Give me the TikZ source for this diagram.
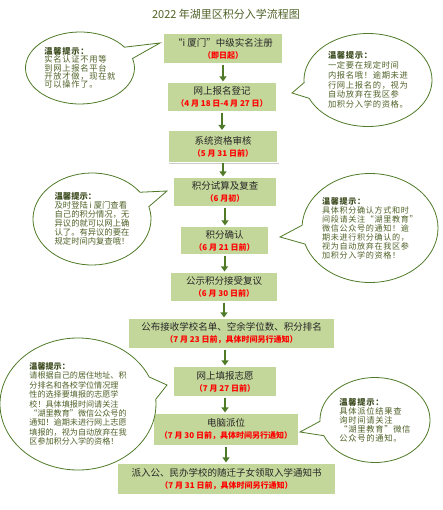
\documentclass[tikz,border=0pt]{standalone}
\usepackage{fontspec}
\setmainfont{Noto Sans CJK SC}
\newfontfamily\hintwide{Noto Sans CJK SC}[LetterSpace=8]
\usetikzlibrary{arrows.meta,shapes.callouts,shadows}
\definecolor{boxfill}{HTML}{C4D79B}
\definecolor{leaf}{HTML}{4F7A28}
\definecolor{hintgreen}{HTML}{4F6228}
\definecolor{hintdark}{HTML}{3A4A1C}
\definecolor{datered}{HTML}{FF0000}
\newcommand\datetxt[1]{{\fontsize{8}{12}\selectfont\bfseries\color{datered}#1}}
\newcommand\hinthead{{\bfseries\color{hintdark}温馨提示：}}
\begin{document}
\begin{tikzpicture}[x=1pt,y=-1pt,
  stage/.style={fill=boxfill,draw=white,line width=1.2pt,
    drop shadow={shadow xshift=1.3pt,shadow yshift=-1.3pt,fill=black!40},
    align=center,inner sep=0pt,font=\fontsize{9.5}{12}\selectfont,text=black!85},
  hint/.style={ellipse callout,draw=leaf,line width=0.8pt,fill=white,
    callout pointer arc=20,align=left,inner sep=0pt,
    font=\fontsize{8.3}{9}\selectfont,text=hintgreen},
  flow/.style={draw=leaf,line width=2pt,-{Triangle[width=7pt,length=5pt]}}]
\useasboundingbox[fill=white] (0,0) rectangle (442,510);
\node[font=\fontsize{11}{13}\selectfont,text=hintgreen] (title) at (226,14) {2022 年湖里区积分入学流程图};
\node[stage,minimum width=120pt,minimum height=31pt] (b1) at (223,48.5) {“i 厦门”中级实名注册\\\datetxt{（即日起）}};
\node[stage,minimum width=110pt,minimum height=30pt] (b2) at (222,97) {网上报名登记\\\datetxt{（4 月 18 日-4 月 27 日）}};
\node[stage,minimum width=110pt,minimum height=32pt] (b3) at (223,146.5) {系统资格审核\\\datetxt{（5 月 31 日前）}};
\node[stage,minimum width=104pt,minimum height=30pt] (b4) at (225,192) {积分试算及复查\\\datetxt{（6 月初）}};
\node[stage,minimum width=89pt,minimum height=29pt] (b5) at (224.5,240.5) {积分确认\\\datetxt{（6 月 21 日前）}};
\node[stage,minimum width=108pt,minimum height=30pt] (b6) at (224,287) {公示积分接受复议\\\datetxt{（6 月 30 日前）}};
\node[stage,minimum width=207pt,minimum height=31pt] (b7) at (231.5,333.5) {公布接收学校名单、空余学位数、积分排名\\\datetxt{（7 月 23 日前，具体时间另行通知）}};
\node[stage,minimum width=104pt,minimum height=31pt] (b8) at (225,381.5) {网上填报志愿\\\datetxt{（7 月 27 日前）}};
\node[stage,minimum width=146pt,minimum height=33pt] (b9) at (226,429.5) {电脑派位\\\datetxt{（7 月 30 日前，具体时间另行通知）}};
\node[stage,minimum width=219pt,minimum height=32pt] (b10) at (226.5,479) {派入公、民办学校的随迁子女领取入学通知书\\\datetxt{（7 月 31 日前，具体时间另行通知）}};
\draw[flow] (b1.south) -- (b1.south |- b2.north);
\draw[flow] (b2.south) -- (b2.south |- b3.north);
\draw[flow] (b3.south) -- (b3.south |- b4.north);
\draw[flow] (b4.south) -- (b4.south |- b5.north);
\draw[flow] (b5.south) -- (b5.south |- b6.north);
\draw[flow] (b6.south) -- (b6.south |- b7.north);
\draw[flow] (b8.north |- b7.south) -- (b8.north);
\draw[flow] (b8.south) -- (b8.south |- b9.north);
\draw[flow] (b9.south) -- (b9.south |- b10.north);
\coordinate (t1) at (160,43);
\coordinate (t2) at (292,93);
\coordinate (t3) at (167,191);
\coordinate (t4) at (280,237);
\coordinate (t5) at (167,385);
\coordinate (t6) at (300,432);
\node[hint,minimum width=109pt,minimum height=72pt,callout absolute pointer={(t1)},
  font=\hintwide\fontsize{8.3}{8.3}\selectfont] (h1) at (80,68)
  {\hinthead\\实名认证不用等\\到网上报名平台\\开放才做，现在就\\可以操作了。};
\node[hint,minimum width=128pt,minimum height=93pt,callout absolute pointer={(t2)},
  font=\hintwide\fontsize{8.3}{9.7}\selectfont] (h2) at (368,80)
  {\hinthead\\一定要在规定时间\\内报名哦！逾期未进\\行网上报名的，视为\\自动放弃在我区参\\加积分入学的资格。};
\node[hint,minimum width=118pt,minimum height=92pt,callout absolute pointer={(t3)}] (h3) at (92,219)
  {\hinthead\\及时登陆 i 厦门查看\\自己的积分情况，无\\异议的就可以网上确\\认了。有异议的要在\\规定时间内复查哦！};
\node[hint,minimum width=136pt,minimum height=109pt,callout absolute pointer={(t4)},
  font=\hintwide\fontsize{8.1}{9}\selectfont] (h4) at (370,228)
  {\hinthead\\具体积分确认方式和时\\间段请关注“湖里教育”\\微信公众号的通知！逾\\期未进行积分确认的，\\视为自动放弃在我区参\\加积分入学的资格！};
\node[hint,minimum width=156pt,minimum height=132pt,callout absolute pointer={(t5)},
  font=\fontsize{8.1}{9.4}\selectfont] (h5) at (78,404)
  {\hinthead\\请根据自己的居住地址、积\\分排名和各校学位情况理\\性的选择要填报的志愿学\\校！具体填报时间请关注\\“湖里教育”微信公众号的\\通知！逾期未进行网上志愿\\填报的，视为自动放弃在我\\区参加积分入学的资格！};
\node[hint,minimum width=110pt,minimum height=85pt,callout absolute pointer={(t6)},
  font=\hintwide\fontsize{8.3}{9}\selectfont] (h6) at (375,420)
  {\hinthead\\具体派位结果查\\询时间请关注\\“湖里教育”微信\\公众号的通知。};
\end{tikzpicture}
\end{document}
